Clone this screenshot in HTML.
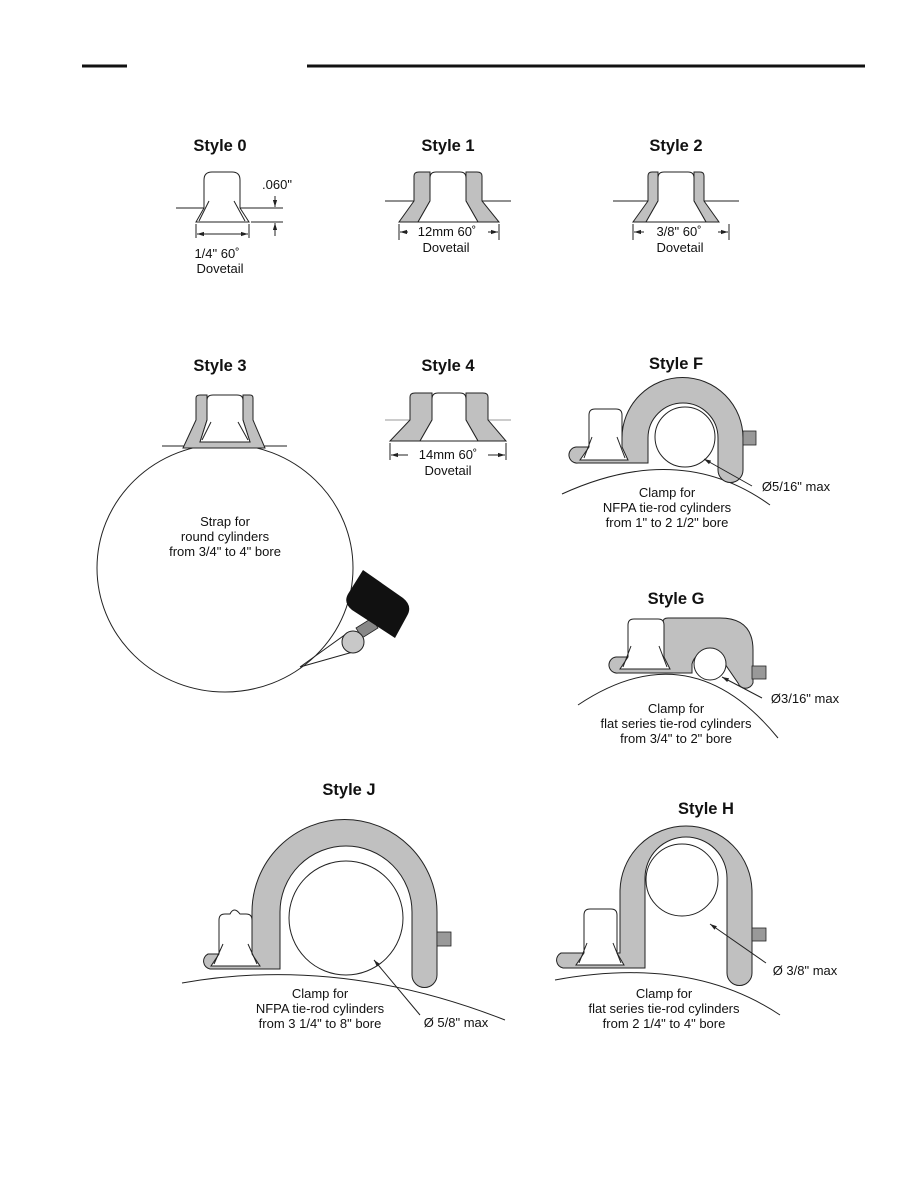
<!DOCTYPE html>
<html><head><meta charset="utf-8"><style>
html,body{margin:0;padding:0;background:#fff}
svg{display:block}
text{font-family:"Liberation Sans",Arial,sans-serif;fill:#111}
.t{font-weight:bold;font-size:16.5px;text-anchor:middle}
.l{font-size:13px;text-anchor:middle}
.g{fill:#c0c0c0;stroke:#222;stroke-width:1}
.w{fill:#fff;stroke:#222;stroke-width:1}
.n{fill:none;stroke:#222;stroke-width:1}
</style></head><body>
<svg width="918" height="1188" viewBox="0 0 918 1188" xmlns="http://www.w3.org/2000/svg">
<defs>
<marker id="a" viewBox="0 0 10 10" refX="10" refY="5" markerWidth="7" markerHeight="7" orient="auto-start-reverse"><path d="M0,2 L10,5 L0,8z" fill="#222"/></marker>
</defs>
<line x1="82" y1="66" x2="127" y2="66" stroke="#111" stroke-width="3"/>
<line x1="307" y1="66" x2="865" y2="66" stroke="#111" stroke-width="3"/>

<!-- Style 0 -->
<text class="t" x="220" y="151">Style 0</text>
<line class="n" x1="176" y1="208" x2="206" y2="208"/>
<line class="n" x1="238" y1="208" x2="283" y2="208"/>
<line class="n" x1="251" y1="222" x2="283" y2="222"/>
<path class="w" d="M204,208 L204,180 Q204,172 212,172 L232,172 Q240,172 240,180 L240,208 L249,222 L196,222 Z"/>
<path class="n" d="M209,201 L199,221 M234,201 L245,221"/>
<line class="n" x1="196" y1="224" x2="196" y2="238"/><line class="n" x1="249" y1="224" x2="249" y2="238"/>
<line class="n" x1="197" y1="234" x2="248" y2="234" marker-start="url(#a)" marker-end="url(#a)"/>
<line class="n" x1="275" y1="196" x2="275" y2="207" marker-end="url(#a)"/>
<line class="n" x1="275" y1="236" x2="275" y2="223" marker-end="url(#a)"/>
<text class="l" x="277" y="189">.060"</text>
<text class="l" x="217" y="258">1/4" 60˚</text>
<text class="l" x="220" y="273">Dovetail</text>

<!-- Style 1 -->
<text class="t" x="448" y="151">Style 1</text>
<line class="n" x1="385" y1="201" x2="414" y2="201"/><line class="n" x1="482" y1="201" x2="511" y2="201"/>
<path class="g" d="M414,201 L414,176 Q414,172 419,172 L430,172 L430,201 L418,222 L399,222 Z"/>
<path class="g" d="M482,201 L482,176 Q482,172 477,172 L466,172 L466,201 L478,222 L499,222 Z"/>
<path class="w" d="M430,201 L430,178 Q430,172 436,172 L460,172 Q466,172 466,178 L466,201 L478,222 L418,222 Z"/>
<line class="n" x1="399" y1="224" x2="399" y2="240"/><line class="n" x1="499" y1="224" x2="499" y2="240"/>
<line class="n" x1="400" y1="232" x2="408" y2="232" marker-start="url(#a)"/><line class="n" x1="488" y1="232" x2="498" y2="232" marker-end="url(#a)"/>
<text class="l" x="447" y="236">12mm 60˚</text>
<text class="l" x="446" y="252">Dovetail</text>

<!-- Style 2 -->
<text class="t" x="676" y="151">Style 2</text>
<line class="n" x1="613" y1="201" x2="648" y2="201"/><line class="n" x1="704" y1="201" x2="739" y2="201"/>
<path class="g" d="M648,201 L648,176 Q648,172 652,172 L658,172 L658,201 L646,222 L633,222 Z"/>
<path class="g" d="M704,201 L704,176 Q704,172 700,172 L694,172 L694,201 L706,222 L719,222 Z"/>
<path class="w" d="M658,201 L658,178 Q658,172 664,172 L688,172 Q694,172 694,178 L694,201 L706,222 L646,222 Z"/>
<line class="n" x1="633" y1="224" x2="633" y2="240"/><line class="n" x1="729" y1="224" x2="729" y2="240"/>
<line class="n" x1="634" y1="232" x2="644" y2="232" marker-start="url(#a)"/><line class="n" x1="718" y1="232" x2="728" y2="232" marker-end="url(#a)"/>
<text class="l" x="679" y="236">3/8" 60˚</text>
<text class="l" x="680" y="252">Dovetail</text>

<!-- Style 3 -->
<text class="t" x="220" y="371">Style 3</text>
<ellipse class="n" cx="225" cy="568" rx="128" ry="124"/>
<line class="n" x1="162" y1="446" x2="287" y2="446"/>
<path class="g" d="M196,420 L196,398 Q196,395 200,395 L207,395 L207,420 L200,442 L250,442 L243,420 L243,395 L250,395 Q253,395 253,398 L253,420 L265,448 L183,448 Z"/>
<path class="w" d="M207,420 L207,400 Q207,395 213,395 L237,395 Q243,395 243,400 L243,420 L250,442 L200,442 Z"/>
<path class="n" d="M211,422 L202,440 M238,422 L248,440"/>
<path d="M300,667 L346,634 M300,667 L360,650" class="n"/>
<path d="M356,628 L372,618 L378,628 L362,638 Z" fill="#888" stroke="#222" stroke-width="0.8"/>
<path d="M363,570 L403,598 Q413,606 407,616 L395,638 L352,610 Q343,603 348,594 Z" fill="#111"/>
<circle cx="353" cy="642" r="11" fill="#c8c8c8" stroke="#222"/>
<text class="l" x="225" y="526">Strap for</text>
<text class="l" x="225" y="541">round cylinders</text>
<text class="l" x="225" y="556">from 3/4" to 4" bore</text>

<!-- Style 4 -->
<text class="t" x="448" y="371">Style 4</text>
<line x1="385" y1="420" x2="511" y2="420" stroke="#999"/>
<path class="g" d="M410,420 L410,397 Q410,393 415,393 L432,393 L432,420 L420,441 L390,441 Z"/>
<path class="g" d="M488,420 L488,397 Q488,393 483,393 L466,393 L466,420 L478,441 L506,441 Z"/>
<path class="w" d="M432,420 L432,399 Q432,393 438,393 L460,393 Q466,393 466,399 L466,420 L478,441 L420,441 Z"/>
<line class="n" x1="390" y1="443" x2="390" y2="460"/><line class="n" x1="506" y1="443" x2="506" y2="460"/>
<line class="n" x1="391" y1="455" x2="408" y2="455" marker-start="url(#a)"/><line class="n" x1="488" y1="455" x2="505" y2="455" marker-end="url(#a)"/>
<text class="l" x="448" y="459">14mm 60˚</text>
<text class="l" x="448" y="475">Dovetail</text>

<!-- Style F -->
<text class="t" x="676" y="369">Style F</text>
<path class="n" d="M562,494 Q680,440 770,505"/>
<path class="g" d="M622,445 L622,438 A60,60 0 0 1 743,438 L743,470 A12.5,12.5 0 0 1 718,470 L718,438 A35,35 0 0 0 648,438 L648,463 L578,463 A8,8 0 0 1 576,447 L590,447 L622,447 Z"/>
<rect x="743" y="431" width="13" height="14" fill="#999" stroke="#222" stroke-width="0.8"/>
<path class="w" d="M589,447 L589,415 Q589,409 595,409 L616,409 Q622,409 622,415 L622,447 L628,460 L580,460 Z"/>
<path class="n" d="M592,437 L584,458 M617,437 L625,458"/>
<circle class="w" cx="685" cy="437" r="30"/>
<line class="n" x1="752" y1="486" x2="704" y2="459" marker-end="url(#a)"/>
<text class="l" x="796" y="491">Ø5/16" max</text>
<text class="l" x="667" y="497">Clamp for</text>
<text class="l" x="667" y="512">NFPA tie-rod cylinders</text>
<text class="l" x="667" y="527">from 1" to 2 1/2" bore</text>

<!-- Style G -->
<text class="t" x="676" y="604">Style G</text>
<path class="n" d="M578,705 Q690,630 778,738"/>
<path class="g" d="M663,660 L663,622 Q663,618 668,618 L720,618 Q753,618 753,650 L753,683 A8,8 0 0 1 738,683 L725,664 A17,17 0 0 0 692,664 L692,673 L618,673 A8,8 0 0 1 616,657 L663,657 Z"/>
<rect x="752" y="666" width="14" height="13" fill="#999" stroke="#222" stroke-width="0.8"/>
<path class="w" d="M628,657 L628,625 Q628,619 634,619 L658,619 Q664,619 664,625 L664,657 L670,669 L620,669 Z"/>
<path class="n" d="M631,646 L623,667 M659,646 L667,667"/>
<circle class="w" cx="710" cy="664" r="16"/>
<line class="n" x1="762" y1="698" x2="722" y2="677" marker-end="url(#a)"/>
<text class="l" x="805" y="703">Ø3/16" max</text>
<text class="l" x="676" y="713">Clamp for</text>
<text class="l" x="676" y="728">flat series tie-rod cylinders</text>
<text class="l" x="676" y="743">from 3/4" to 2" bore</text>

<!-- Style J -->
<text class="t" x="349" y="795">Style J</text>
<path class="n" d="M182,983 Q340,955 505,1020"/>
<path class="g" d="M252,960 L252,912 A92.5,92.5 0 0 1 437,912 L437,975 A12.5,12.5 0 0 1 412,975 L412,912 A66,66 0 0 0 280,912 L280,969 L210,969 A8,8 0 0 1 208,954 L252,954 Z"/>
<rect x="437" y="932" width="14" height="14" fill="#999" stroke="#222" stroke-width="0.8"/>
<path class="w" d="M219,954 L219,920 Q219,914 225,914 L230,914 Q234,906 240,914 L246,914 Q252,914 252,920 L252,954 L260,966 L211,966 Z"/>
<path class="n" d="M223,944 L214,964 M248,944 L257,964"/>
<circle class="w" cx="346" cy="918" r="57"/>
<line class="n" x1="420" y1="1015" x2="374" y2="960" marker-end="url(#a)"/>
<text class="l" x="456" y="1027">Ø 5/8" max</text>
<text class="l" x="320" y="998">Clamp for</text>
<text class="l" x="320" y="1013">NFPA tie-rod cylinders</text>
<text class="l" x="320" y="1028">from 3 1/4" to 8" bore</text>

<!-- Style H -->
<text class="t" x="706" y="814">Style H</text>
<path class="n" d="M555,980 Q690,955 780,1015"/>
<path class="g" d="M620,950 L620,892 A66,66 0 0 1 752,892 L752,973 A12.5,12.5 0 0 1 727,973 L727,878 A41,41 0 0 0 645,878 L645,968 L563,968 A8,8 0 0 1 561,953 L620,953 Z"/>
<rect x="752" y="928" width="14" height="13" fill="#999" stroke="#222" stroke-width="0.8"/>
<path class="w" d="M584,953 L584,915 Q584,909 590,909 L611,909 Q617,909 617,915 L617,953 L624,965 L576,965 Z"/>
<path class="n" d="M587,943 L579,963 M613,943 L621,963"/>
<circle class="w" cx="682" cy="880" r="36"/>
<line class="n" x1="766" y1="963" x2="710" y2="924" marker-end="url(#a)"/>
<text class="l" x="805" y="975">Ø 3/8" max</text>
<text class="l" x="664" y="998">Clamp for</text>
<text class="l" x="664" y="1013">flat series tie-rod cylinders</text>
<text class="l" x="664" y="1028">from 2 1/4" to 4" bore</text>
</svg>
</body></html>
